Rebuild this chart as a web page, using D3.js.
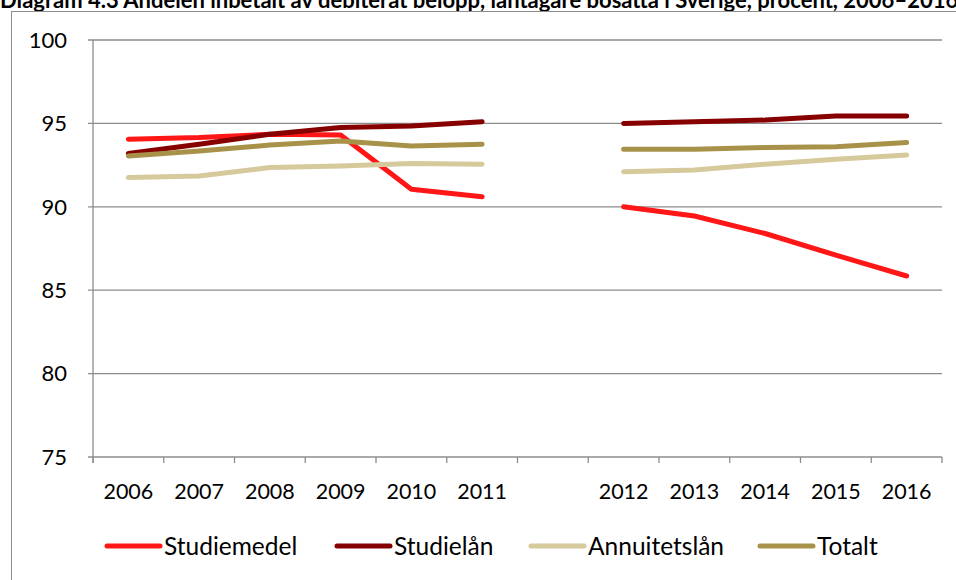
<!DOCTYPE html>
<html>
<head>
<meta charset="utf-8">
<script src="https://cdn.jsdelivr.net/npm/d3@7"></script>
<style>
  html, body { margin: 0; padding: 0; background: #fff; }
  svg { display: block; font-family: Lato, "Open Sans", sans-serif; }
</style>
</head>
<body>
<div id="chart"></div>
<script>
// categories, the empty slot is the gap between the two periods
const years = ["2006", "2007", "2008", "2009", "2010", "2011", "", "2012", "2013", "2014", "2015", "2016"];

const studiemedel   = [94.05, 94.15, 94.35, 94.3, 91.05, 90.6, null, 90.0, 89.45, 88.4, 87.1, 85.85];
const studielan     = [93.2, 93.75, 94.35, 94.75, 94.85, 95.1, null, 95.0, 95.1, 95.2, 95.45, 95.45];
const annuitetslan  = [91.75, 91.85, 92.35, 92.45, 92.6, 92.55, null, 92.1, 92.2, 92.55, 92.85, 93.1];
const totalt        = [93.05, 93.35, 93.7, 93.95, 93.65, 93.75, null, 93.45, 93.45, 93.55, 93.6, 93.85];

const seriesNames = ["Studiemedel", "Studielån", "Annuitetslån", "Totalt"];
const seriesValues = [studiemedel, studielan, annuitetslan, totalt];
const seriesColors = ["#ff1616", "#870000", "#d6c99c", "#a8924a"];

const yTicks = [75, 80, 85, 90, 95, 100];

const W = 956, H = 580;
const plot = { left: 93, right: 942, top: 40, bottom: 457 };
const legendX = [107, 337, 531, 760];

const svg = d3.select("#chart").append("svg")
    .attr("width", W)
    .attr("height", H);

// title sits partly above the top edge, as in the source picture
svg.append("text")
    .attr("x", 0)
    .attr("y", 8)
    .attr("font-weight", "700")
    .attr("font-size", "22px")
    .attr("fill", "#000")
    .text("Diagram 4.3 Andelen inbetalt av debiterat belopp, låntagare bosatta i Sverige, procent, 2006–2016");

// outer frame
svg.append("rect")
    .attr("x", 11.5)
    .attr("y", 11.5)
    .attr("width", W + 10)
    .attr("height", H + 10)
    .attr("fill", "none")
    .attr("stroke", "#8c8c8c")
    .attr("stroke-width", 1);

const x = d3.scaleBand()
    .domain(years.map((d, i) => i))
    .range([plot.left, plot.right])
    .paddingInner(0)
    .paddingOuter(0);

const y = d3.scaleLinear()
    .domain([75, 100])
    .range([plot.bottom, plot.top]);

const gridColor = "#8c8c8c";

// horizontal gridlines
svg.append("g")
    .selectAll("line")
    .data(yTicks)
    .join("line")
    .attr("x1", plot.left - 5)
    .attr("x2", plot.right)
    .attr("y1", d => y(d))
    .attr("y2", d => y(d))
    .attr("stroke", gridColor)
    .attr("stroke-width", 1.3);

// y labels
svg.append("g")
    .selectAll("text")
    .data(yTicks)
    .join("text")
    .attr("x", plot.left - 26)
    .attr("y", d => y(d))
    .attr("dy", "0.35em")
    .attr("text-anchor", "end")
    .attr("font-size", "22px")
    .attr("fill", "#000")
    .text(d => d);

// y axis line
svg.append("line")
    .attr("x1", plot.left)
    .attr("x2", plot.left)
    .attr("y1", plot.top)
    .attr("y2", plot.bottom + 6)
    .attr("stroke", gridColor)
    .attr("stroke-width", 1.3);

// x tick marks at the category boundaries
const boundaries = years.map((d, i) => x(i)).concat([x(years.length - 1) + x.bandwidth()]);
svg.append("g")
    .selectAll("line")
    .data(boundaries)
    .join("line")
    .attr("x1", d => d)
    .attr("x2", d => d)
    .attr("y1", plot.bottom)
    .attr("y2", plot.bottom + 6)
    .attr("stroke", gridColor)
    .attr("stroke-width", 1.3);

// x labels
svg.append("g")
    .selectAll("text")
    .data(years)
    .join("text")
    .attr("x", (d, i) => x(i) + x.bandwidth() / 2)
    .attr("y", 499)
    .attr("text-anchor", "middle")
    .attr("font-size", "21.5px")
    .attr("fill", "#000")
    .text(d => d);

// series lines, broken at the gap
const line = d3.line()
    .defined(d => d != null)
    .x((d, i) => x(i) + x.bandwidth() / 2)
    .y(d => y(d));

svg.append("g")
    .selectAll("path")
    .data(seriesValues)
    .join("path")
    .attr("d", line)
    .attr("fill", "none")
    .attr("stroke", (d, i) => seriesColors[i])
    .attr("stroke-width", 5)
    .attr("stroke-linejoin", "round")
    .attr("stroke-linecap", "round");

// legend
const legend = svg.append("g");
seriesNames.forEach((name, i) => {
    const item = legend.append("g")
        .attr("transform", `translate(${legendX[i]}, 546)`);
    item.append("line")
        .attr("x1", 0)
        .attr("x2", 53)
        .attr("stroke", seriesColors[i])
        .attr("stroke-width", 5)
        .attr("stroke-linecap", "round");
    item.append("text")
        .attr("x", 57)
        .attr("dy", "0.35em")
        .attr("font-size", "24.5px")
        .attr("fill", "#000")
        .text(name);
});
</script>
</body>
</html>
